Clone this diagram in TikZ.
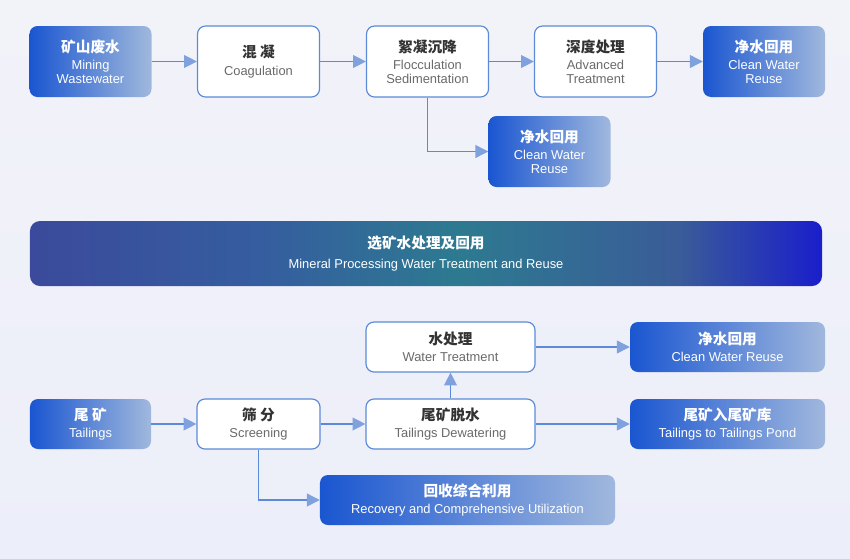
\documentclass[tikz,border=0pt]{standalone}
\usepackage{fontspec}
\setmainfont{Liberation Sans}
\newfontfamily\cjk{Noto Sans CJK SC}
\usetikzlibrary{arrows.meta}

\definecolor{lineblue}{HTML}{5B8BD8}
\definecolor{tipblue}{HTML}{7FA1DD}
\definecolor{deepblue}{HTML}{1A56D1}
\definecolor{paleblue}{HTML}{A0B8DD}
\definecolor{titlegray}{HTML}{333333}
\definecolor{subgray}{HTML}{6A6A6A}
\definecolor{bgtop}{HTML}{F2F3F9}
\definecolor{bgbot}{HTML}{ECEEF9}
\definecolor{bannerA}{HTML}{3B4A9C}
\definecolor{bannerB}{HTML}{355E9F}
\definecolor{bannerC}{HTML}{2D7A90}
\definecolor{bannerD}{HTML}{3A5C98}
\definecolor{bannerE}{HTML}{1A1ECB}
\pgfdeclarehorizontalshading{bannershade}{100bp}{%
  color(0bp)=(bannerA); color(25bp)=(bannerA); color(40bp)=(bannerB);
  color(52bp)=(bannerC); color(66bp)=(bannerD); color(75bp)=(bannerE);
  color(100bp)=(bannerE)}

% 标题 + 英文说明
\newcommand{\steptext}[3][white]{{\color{#1}\cjk\bfseries\fontsize{12.5}{12}\selectfont #2}\\[3pt]#3}

\begin{document}
\begin{tikzpicture}[
    x=0.03cm, y=-0.03cm,
    box/.style={rectangle, rounded corners=0.24cm, align=center, inner sep=0pt,
        font=\fontsize{11}{11.8}\selectfont},
    whitebox/.style={box, draw=lineblue, line width=1pt, fill=white, text=subgray},
    bluebox/.style={box, left color=deepblue, right color=paleblue, text=white},
    tall/.style={minimum width=3.66cm, minimum height=2.13cm},
    low/.style={minimum height=1.5cm},
    flow/.style={draw=lineblue, line width=1.1pt,
        -{Triangle[length=11pt, width=11pt, color=tipblue]}}
]
    % 背景
    \shade[top color=bgtop, bottom color=bgbot] (0,0) rectangle (850,558);
    \useasboundingbox (0,0) rectangle (850,558);

    % 上排流程
    \node[bluebox, tall] (mine) at (90.5,61.5) {\steptext{矿山废水}{Mining\\Wastewater}};
    \node[whitebox, tall] (coag) at (258.5,61.5) {\steptext[titlegray]{混 凝}{Coagulation}};
    \node[whitebox, tall] (floc) at (427.5,61.5) {\steptext[titlegray]{絮凝沉降}{Flocculation\\Sedimentation}};
    \node[whitebox, tall] (adv) at (595.5,61.5) {\steptext[titlegray]{深度处理}{Advanced\\Treatment}};
    \node[bluebox, tall] (reuse) at (764,61.5) {\steptext{净水回用}{Clean Water\\Reuse}};
    \node[bluebox, tall] (reusetwo) at (549.5,151.5) {\steptext{净水回用}{Clean Water\\Reuse}};

    \draw[flow] (mine) -- (coag);
    \draw[flow] (coag) -- (floc);
    \draw[flow] (floc) -- (adv);
    \draw[flow] (adv) -- (reuse);
    \draw[flow] (floc.south) |- (reusetwo);

    % 中间标题
    \node[box, shading=bannershade, rounded corners=0.3cm, text=white,
        minimum width=23.76cm, minimum height=1.95cm] (banner) at (426,253.5)
        {{\cjk\bfseries\fontsize{12.5}{12}\selectfont 选矿水处理及回用}\\[6pt]Mineral Processing Water Treatment and Reuse};

    % 下排流程
    \node[whitebox, low, minimum width=5.07cm] (water) at (450.5,347) {\steptext[titlegray]{水处理}{Water Treatment}};
    \node[bluebox, low, minimum width=5.85cm] (clean) at (727.5,347) {\steptext{净水回用}{Clean Water Reuse}};
    \node[bluebox, low, minimum width=3.63cm] (tail) at (90.5,424) {\steptext{尾 矿}{Tailings}};
    \node[whitebox, low, minimum width=3.69cm] (screen) at (258.5,424) {\steptext[titlegray]{筛 分}{Screening}};
    \node[whitebox, low, minimum width=5.07cm] (dewater) at (450.5,424) {\steptext[titlegray]{尾矿脱水}{Tailings Dewatering}};
    \node[bluebox, low, minimum width=5.85cm] (pond) at (727.5,424) {\steptext{尾矿入尾矿库}{Tailings to Tailings Pond}};
    \node[bluebox, low, minimum width=8.85cm] (recov) at (467.5,500) {\steptext{回收综合利用}{Recovery and Comprehensive Utilization}};

    \draw[flow] (tail) -- (screen);
    \draw[flow] (screen) -- (dewater);
    \draw[flow] (dewater) -- (pond);
    \draw[flow] (dewater) -- (water);
    \draw[flow] (water) -- (clean);
    \draw[flow] (screen.south) |- (recov);
\end{tikzpicture}
\end{document}
